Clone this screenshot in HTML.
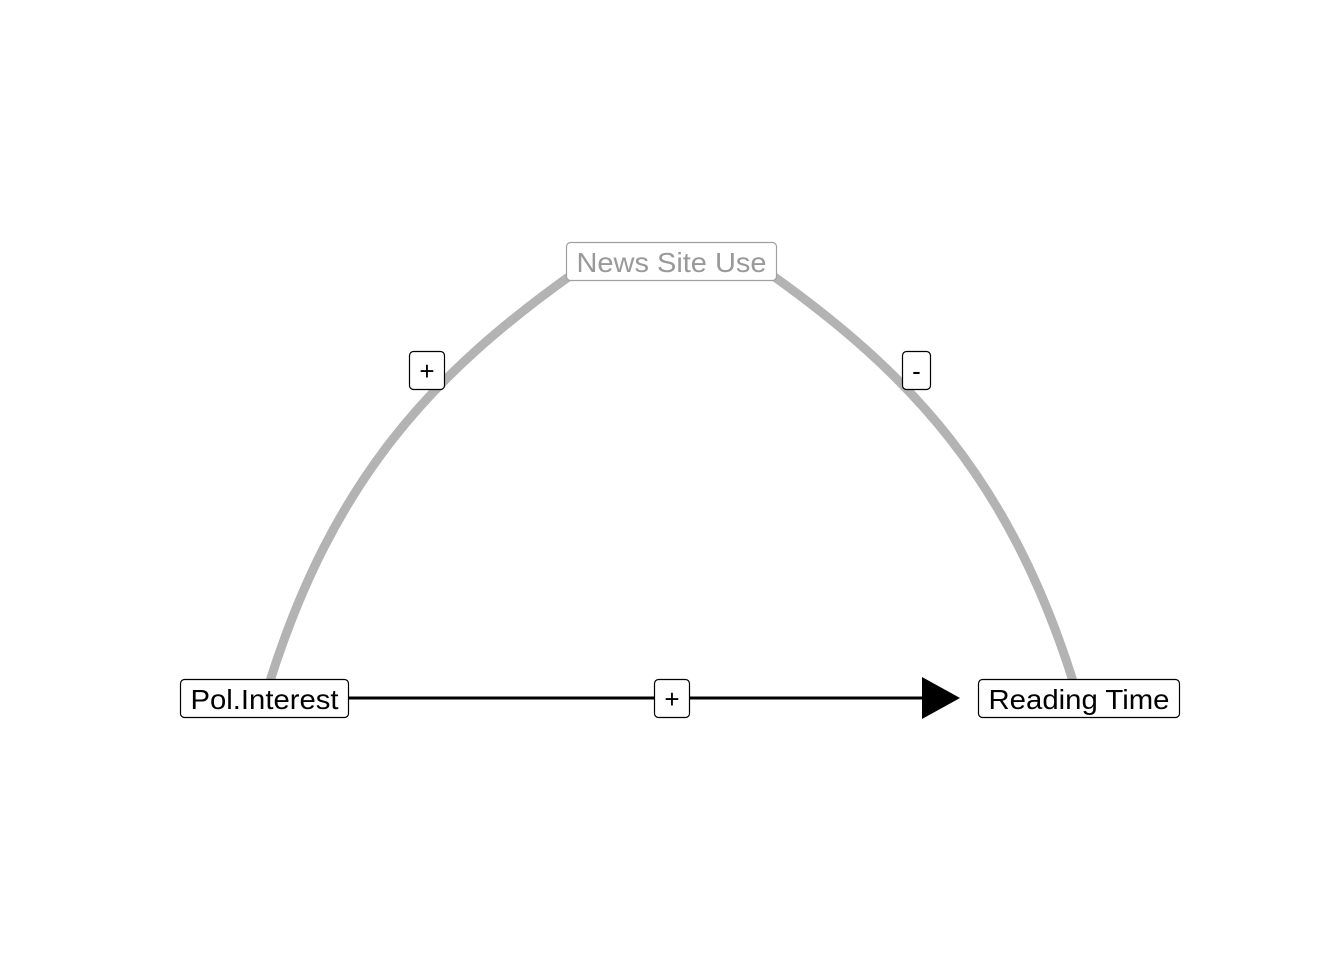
<!DOCTYPE html>
<html><head><meta charset="utf-8"><style>
html,body{margin:0;padding:0;background:#fff;}
svg{display:block;font-family:"Liberation Sans",sans-serif;}
</style></head><body>
<svg width="1344" height="960" viewBox="0 0 1344 960">
  <rect width="1344" height="960" fill="#fff"/>
  <path d="M270,681 C334,479 432,374 574,273" fill="none" stroke="#b3b3b3" stroke-width="9"/>
  <path d="M1073,681 C1009,479 911,374 769,273" fill="none" stroke="#b3b3b3" stroke-width="9"/>
  <line x1="348" y1="698" x2="924" y2="698" stroke="#000" stroke-width="3"/>
  <polygon points="922,677 960,698 922,719" fill="#000"/>

  <g>
    <rect x="566.5" y="242.5" width="210" height="38" rx="4" fill="#fff" stroke="#a0a0a0" stroke-width="1.2"/>
    <text x="671.5" y="272" text-anchor="middle" font-size="28" fill="#999" textLength="190" lengthAdjust="spacingAndGlyphs">News Site Use</text>
  </g>
  <g>
    <rect x="180.5" y="679.5" width="168" height="38" rx="4" fill="#fff" stroke="#000" stroke-width="1.2"/>
    <text x="264.5" y="709" text-anchor="middle" font-size="28" fill="#000" textLength="148" lengthAdjust="spacingAndGlyphs">Pol.Interest</text>
  </g>
  <g>
    <rect x="978.5" y="679.5" width="201" height="38" rx="4" fill="#fff" stroke="#000" stroke-width="1.2"/>
    <text x="1079" y="709" text-anchor="middle" font-size="28" fill="#000" textLength="181" lengthAdjust="spacingAndGlyphs">Reading Time</text>
  </g>
  <g>
    <rect x="409.5" y="351.5" width="35" height="38" rx="4" fill="#fff" stroke="#000" stroke-width="1.2"/>
    <text x="427" y="380" text-anchor="middle" font-size="26">+</text>
  </g>
  <g>
    <rect x="902.5" y="351.5" width="28" height="38" rx="4" fill="#fff" stroke="#000" stroke-width="1.2"/>
    <text x="916.5" y="380" text-anchor="middle" font-size="26">-</text>
  </g>
  <g>
    <rect x="654.5" y="679.5" width="35" height="38" rx="4" fill="#fff" stroke="#000" stroke-width="1.2"/>
    <text x="672" y="708" text-anchor="middle" font-size="26">+</text>
  </g>
</svg>
</body></html>
